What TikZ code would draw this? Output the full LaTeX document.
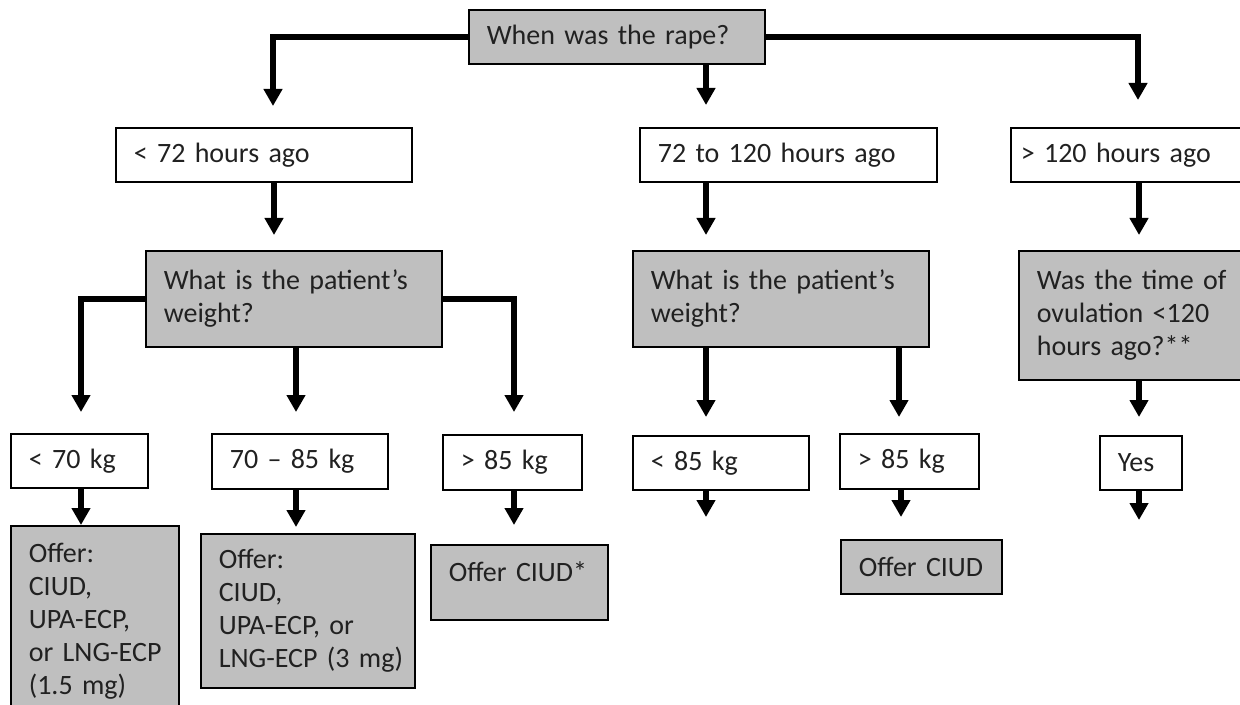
\documentclass[tikz,border=0pt]{standalone}
\usepackage{fontspec}
\setmainfont{Carlito}
\usetikzlibrary{arrows.meta}
\definecolor{boxgray}{RGB}{191,191,191}
\definecolor{inkgray}{RGB}{33,33,33}
\tikzset{
  cell/.style={draw=black, line width=0.8pt, anchor=north west, align=left,
    inner xsep=9pt, inner ysep=0pt, text=inkgray,
    font=\fontsize{14pt}{16.5pt}\selectfont},
  qcell/.style={cell, fill=boxgray},
  flow/.style={line width=3pt, -{Triangle[width=9pt,length=8.5pt]}}
}

\begin{document}
\begin{tikzpicture}[x=0.5pt,y=-0.5pt]
\useasboundingbox (0,0) rectangle (1240,705);

% questions and answers
\node (rape) at (468,9) [qcell, text width=130pt, minimum height=27pt] {When was the rape?};
\node (h72) at (115,127) [cell, text width=130pt, minimum height=27pt] {< 72 hours ago};
\node (h120) at (639,127) [cell, text width=130.5pt, minimum height=27pt] {72 to 120 hours ago};
\node (hmore) at (1010,127) [cell, inner xsep=5pt, text width=107.5pt, minimum height=27pt] {> 120 hours ago};
\node (wA) at (145,250) [qcell, text width=130pt, minimum height=48pt] {\mbox{What is the patient’s}\\weight?};
\node (wB) at (632,250) [qcell, text width=130pt, minimum height=48pt] {\mbox{What is the patient’s}\\weight?};
\node (ovu) at (1018,250) [qcell, text width=104pt, minimum height=64.5pt] {\mbox{Was the time of}\\\mbox{ovulation <120}\\\mbox{hours ago?**}};
\node (k70) at (10,433) [cell, text width=50.5pt, minimum height=27pt] {< 70 kg};
\node (k7085) at (211,433) [cell, text width=70pt, minimum height=27.5pt] {70 – 85 kg};
\node (k85a) at (442,434) [cell, text width=51.5pt, minimum height=27.5pt] {> 85 kg};
\node (k85b) at (632,435) [cell, text width=70pt, minimum height=27pt] {< 85 kg};
\node (k85c) at (839,433) [cell, text width=51.5pt, minimum height=27.5pt] {> 85 kg};
\node (yes) at (1099,435) [cell, text width=23pt, minimum height=27pt] {Yes};
\node (offA) at (10,525) [qcell, text width=66pt, minimum height=95pt] {Offer:\\CIUD,\\UPA-ECP,\\\mbox{or LNG-ECP}\\\mbox{(1.5 mg)}};
\node (offB) at (200,533) [qcell, text width=89pt, minimum height=77pt] {Offer:\\CIUD,\\\mbox{UPA-ECP, or}\\\mbox{LNG-ECP (3 mg)}};
\node (offC) at (430,544) [qcell, text width=70.5pt, text height=18.5pt, text depth=19pt] {Offer CIUD*};
\node (offD) at (840,539) [qcell, text width=62.5pt, minimum height=27pt] {Offer CIUD};

% arrow ends
\coordinate (t72) at (273,106);
\coordinate (t120) at (706,105);
\coordinate (tmore) at (1138,100);
\coordinate (tA) at (274,235);
\coordinate (tB) at (706,235);
\coordinate (tO) at (1139,235);
\coordinate (tk70) at (81,412);
\coordinate (tk7085) at (296,412);
\coordinate (tk85a) at (514,412);
\coordinate (tk85b) at (706,417);
\coordinate (tk85c) at (899,417);
\coordinate (tyes) at (1139,417);
\coordinate (tofA) at (81,525);
\coordinate (tofB) at (296,527);
\coordinate (tofC) at (514,525);
\coordinate (tless) at (706,517);
\coordinate (tofD) at (901,517);
\coordinate (tend) at (1139,520);

\draw [flow] (rape.west) -| (t72);
\draw [flow] (rape.south -| t120) -- (t120);
\draw [flow] (rape.east) -| (tmore);
\draw [flow] (h72.south -| tA) -- (tA);
\draw [flow] (h120.south -| tB) -- (tB);
\draw [flow] (hmore.south -| tO) -- (tO);
\draw [flow] (wA.west) -| (tk70);
\draw [flow] (wA.south -| tk7085) -- (tk7085);
\draw [flow] (wA.east) -| (tk85a);
\draw [flow] (wB.south -| tk85b) -- (tk85b);
\draw [flow] (wB.south -| tk85c) -- (tk85c);
\draw [flow] (ovu.south -| tyes) -- (tyes);
\draw [flow] (k70.south -| tofA) -- (tofA);
\draw [flow] (k7085.south -| tofB) -- (tofB);
\draw [flow] (k85a.south -| tofC) -- (tofC);
\draw [flow] (k85b.south -| tless) -- (tless);
\draw [flow] (k85c.south -| tofD) -- (tofD);
\draw [flow] (yes.south -| tend) -- (tend);
\end{tikzpicture}
\end{document}
